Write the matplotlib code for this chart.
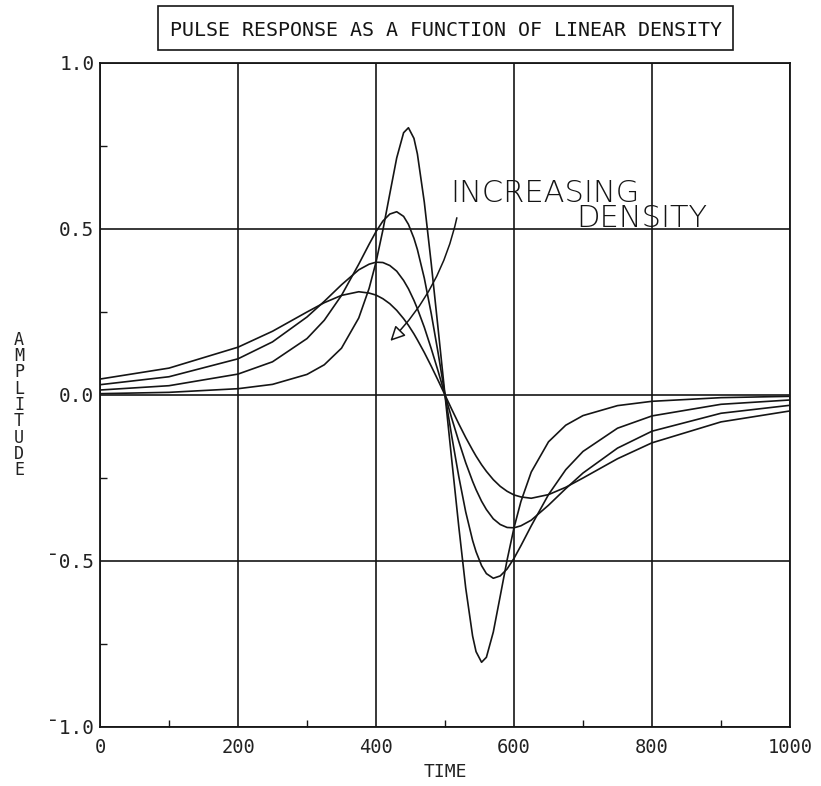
import matplotlib
matplotlib.use("Agg")
import matplotlib.pyplot as plt
from matplotlib.patches import Rectangle
from matplotlib.ticker import MultipleLocator, FixedLocator

# ---- data ----
time = [0, 100, 200, 250, 300, 325, 350, 375, 390, 400, 410, 420, 430, 440, 447,
        455, 460, 470, 480, 490, 500,
        510, 520, 530, 540, 545, 553, 560, 570, 580, 590, 600, 610, 625, 650,
        675, 700, 750, 800, 900, 1000]

# narrowest pulse (lowest density) ... widest pulse (highest density)
amp_1 = [0.004, 0.008, 0.019, 0.032, 0.062, 0.091, 0.141, 0.232, 0.321, 0.400,
         0.497, 0.606, 0.714, 0.790, 0.805, 0.773, 0.726, 0.581, 0.397, 0.200, 0.0,
         -0.200, -0.397, -0.581, -0.726, -0.773, -0.805, -0.790, -0.714, -0.606,
         -0.497, -0.400, -0.321, -0.232, -0.141, -0.091, -0.062, -0.032, -0.019,
         -0.008, -0.004]
amp_2 = [0.015, 0.028, 0.063, 0.100, 0.170, 0.225, 0.300, 0.394, 0.454, 0.492,
         0.524, 0.545, 0.552, 0.538, 0.514, 0.472, 0.438, 0.352, 0.246, 0.127, 0.0,
         -0.127, -0.246, -0.352, -0.438, -0.472, -0.514, -0.538, -0.552, -0.545,
         -0.524, -0.492, -0.454, -0.394, -0.300, -0.225, -0.170, -0.100, -0.063,
         -0.028, -0.015]
amp_3 = [0.031, 0.055, 0.109, 0.160, 0.235, 0.282, 0.332, 0.377, 0.394, 0.400,
         0.399, 0.390, 0.373, 0.345, 0.320, 0.285, 0.260, 0.204, 0.140, 0.072, 0.0,
         -0.072, -0.140, -0.204, -0.260, -0.285, -0.320, -0.345, -0.373, -0.390,
         -0.399, -0.400, -0.394, -0.377, -0.332, -0.282, -0.235, -0.160, -0.109,
         -0.055, -0.031]
amp_4 = [0.048, 0.081, 0.144, 0.192, 0.250, 0.278, 0.300, 0.311, 0.307, 0.301,
         0.290, 0.275, 0.255, 0.230, 0.210, 0.184, 0.166, 0.128, 0.087, 0.044, 0.0,
         -0.044, -0.087, -0.128, -0.166, -0.184, -0.210, -0.230, -0.255, -0.275,
         -0.290, -0.301, -0.307, -0.311, -0.300, -0.278, -0.250, -0.192, -0.144,
         -0.081, -0.048]

x_ticks = [0, 200, 400, 600, 800, 1000]
x_tick_labels = ["0", "200", "400", "600", "800", "1000"]
y_ticks = [-1.0, -0.5, 0.0, 0.5, 1.0]
y_tick_labels = ["\u00af1.0", "\u00af0.5", "0.0", "0.5", "1.0"]

title = "PULSE RESPONSE AS A FUNCTION OF LINEAR DENSITY"
x_label = "TIME"
y_label = "AMPLITUDE"
note_1 = "INCREASING"
note_2 = "DENSITY"

# ---- figure ----
W, H = 821, 786
fig = plt.figure(figsize=(W / 100, H / 100), dpi=100)
fig.patch.set_facecolor("white")

def fx(px):
    return px / W

def fy(py):
    return 1 - py / H

ax = fig.add_axes([fx(100), fy(727), fx(790) - fx(100), fy(63) - fy(727)])
ax.set_xlim(0, 1000)
ax.set_ylim(-1.0, 1.0)

mono = "DejaVu Sans Mono"
ink = "#151515"

for sp in ax.spines.values():
    sp.set_linewidth(1.3)
    sp.set_color(ink)

ax.xaxis.set_major_locator(FixedLocator(x_ticks))
ax.yaxis.set_major_locator(FixedLocator(y_ticks))
ax.xaxis.set_minor_locator(MultipleLocator(100))
ax.yaxis.set_minor_locator(MultipleLocator(0.25))
ax.set_xticklabels(x_tick_labels, fontfamily=mono, fontsize=13.5, color="#222222")
ax.set_yticklabels(y_tick_labels, fontfamily=mono, fontsize=14, color="#222222")
ax.tick_params(which="both", direction="in", color=ink, width=1.0)
ax.tick_params(which="major", length=0, pad=4)
ax.tick_params(which="minor", length=5)
ax.tick_params(axis="x", which="major", pad=8)

ax.grid(True, which="major", color=ink, linewidth=1.2)
ax.set_axisbelow(True)

for ys in (amp_1, amp_2, amp_3, amp_4):
    ax.plot(time, ys, color=ink, linewidth=1.2)

# annotation (handwritten)
ax.text(508, 0.582, note_1, fontsize=22, fontfamily="DejaVu Sans",
        fontweight="light", color=ink, ha="left", va="baseline")
ax.text(690, 0.505, note_2, fontsize=22, fontfamily="DejaVu Sans",
        fontweight="light", color=ink, ha="left", va="baseline")
ax.annotate("", xy=(418, 0.157), xytext=(518, 0.542),
            arrowprops=dict(arrowstyle="-|>", fc="white", ec=ink, lw=1.1,
                            mutation_scale=22,
                            connectionstyle="arc3,rad=-0.15"))

# title box
fig.patches.append(Rectangle((fx(158), fy(50)), fx(733) - fx(158), fy(6) - fy(50),
                             transform=fig.transFigure, fill=False,
                             edgecolor=ink, linewidth=1.2))
fig.text(fx(445.5), fy(30), title, fontfamily=mono, fontsize=14.4,
         ha="center", va="center", color=ink)

fig.text(fx(445), fy(772), x_label, fontfamily=mono, fontsize=13,
         ha="center", va="center", color="#222222")
fig.text(fx(19), fy(405), "\n".join(y_label), fontfamily=mono, fontsize=12,
         ha="center", va="center", color="#222222", linespacing=0.88)

fig.savefig("out.png", dpi=100, facecolor="white")
